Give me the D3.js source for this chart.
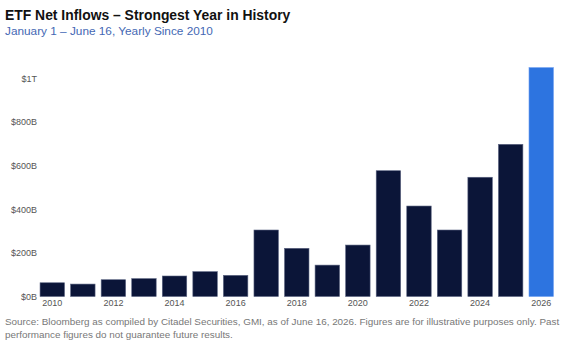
<!DOCTYPE html>
<html><head><meta charset="utf-8">
<script src="https://cdn.jsdelivr.net/npm/d3@7"></script>
<style>body{margin:0;background:#fff}svg{display:block}</style>
</head><body>
<script>
const years = [2010,2011,2012,2013,2014,2015,2016,2017,2018,2019,2020,2021,2022,2023,2024,2025,2026];
const inflows = [63,57,77,82,94,114,97,305,221,144,236,577,415,305,547,698,1050]; // $B
const yTicks = [0,200,400,600,800,1000];
const yTickLabels = ["$0B","$200B","$400B","$600B","$800B","$1T"];
const xTickYears = [2010,2012,2014,2016,2018,2020,2022,2024,2026];

const W=564,H=341;
const svg=d3.select("body").append("svg").attr("width",W).attr("height",H);
const font="'Liberation Sans', Arial, sans-serif";

const x=d3.scaleBand().domain(years).range([37,556.5]).paddingInner(0.2).paddingOuter(0.1);
const y=d3.scaleLinear().domain([0,1000]).range([296.5,78.5]);

svg.append("text").attr("x",5).attr("y",20).attr("font-family",font).attr("font-weight","bold")
  .attr("font-size",13.9).attr("fill","#111").text("ETF Net Inflows – Strongest Year in History");
svg.append("text").attr("x",5).attr("y",35).attr("font-family",font)
  .attr("font-size",11.8).attr("fill","#4468b4").text("January 1 – June 16, Yearly Since 2010");

svg.selectAll("rect.bar").data(years).enter().append("rect").attr("class","bar")
  .attr("x",d=>x(d)).attr("width",x.bandwidth())
  .attr("y",(d,i)=>y(inflows[i])).attr("height",(d,i)=>y(0)-y(inflows[i]))
  .attr("fill",d=>d===2026?"#2d74e0":"#0b1538")
  .attr("stroke",d=>d===2026?"#6d9ef0":"#5a6380").attr("stroke-width",0.6);

const yAxis=d3.axisLeft(y).tickValues(yTicks).tickFormat((d,i)=>yTickLabels[i]).tickSize(0).tickPadding(0);
const ga=svg.append("g").attr("transform","translate(37,0)").call(yAxis);
ga.select(".domain").remove();
ga.selectAll("text").attr("font-family",font).attr("font-size",9).attr("fill","#555");

const xAxis=d3.axisBottom(x).tickValues(xTickYears).tickSize(0).tickPadding(3);
const gx=svg.append("g").attr("transform","translate(0,297)").call(xAxis);
gx.select(".domain").remove();
gx.selectAll("text").attr("font-family",font).attr("font-size",9).attr("fill","#555");

svg.append("text").attr("x",5).attr("y",325).attr("font-family",font).attr("font-size",9.9).attr("fill","#777")
  .text("Source: Bloomberg as compiled by Citadel Securities, GMI, as of June 16, 2026. Figures are for illustrative purposes only. Past");
svg.append("text").attr("x",5).attr("y",338).attr("font-family",font).attr("font-size",9.9).attr("fill","#777")
  .text("performance figures do not guarantee future results.");
</script>
</body></html>
